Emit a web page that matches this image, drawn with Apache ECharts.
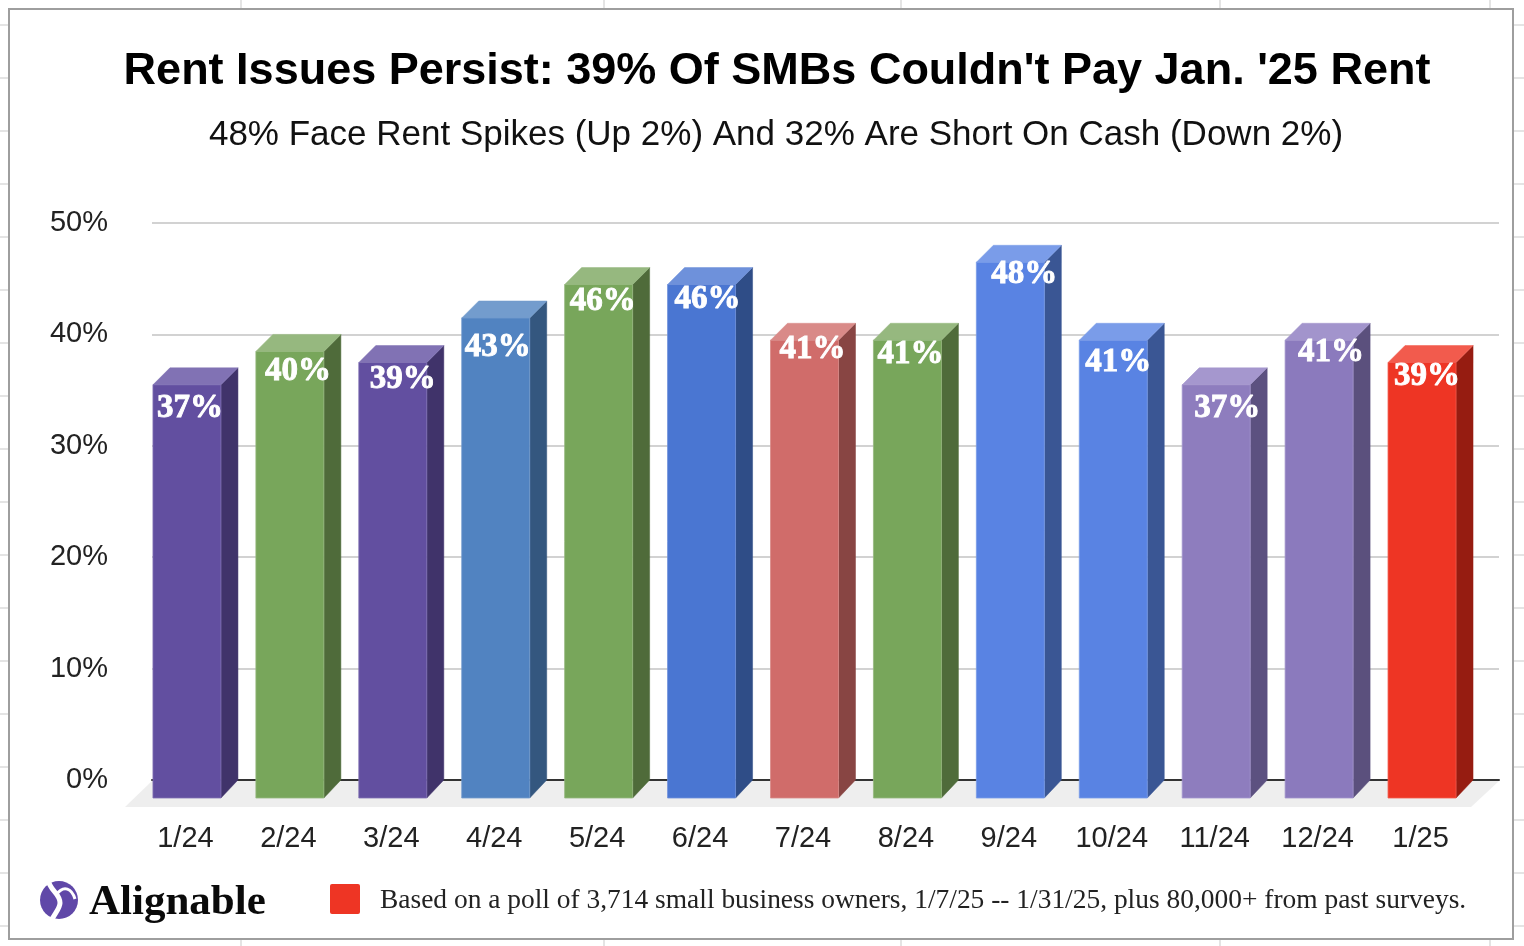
<!DOCTYPE html>
<html><head><meta charset="utf-8">
<style>html,body{margin:0;padding:0;background:#fff}#c{width:1524px;height:946px}</style>
<script src="https://cdn.jsdelivr.net/npm/echarts@6/dist/echarts.min.js"></script>
</head><body><div id="c"></div>
<script>
const categories = ['1/24','2/24','3/24','4/24','5/24','6/24','7/24','8/24','9/24','10/24','11/24','12/24','1/25'];
const rentValues = [37,40,39,43,46,46,41,41,48,41,37,41,39];
const yTicks = [0,10,20,30,40,50];
const titleText = "Rent Issues Persist: 39% Of SMBs Couldn't Pay Jan. '25 Rent";
const subtitleText = '48% Face Rent Spikes (Up 2%) And 32% Are Short On Cash (Down 2%)';
const noteText = 'Based on a poll of 3,714 small business owners, 1/7/25 -- 1/31/25, plus 80,000+ from past surveys.';
const logoText = 'Alignable';

// Styling, separate from the data
const frontColors = ['#624FA0','#78A65B','#624FA0','#5183C1','#78A65B','#4A76D2','#D06C6A','#78A65B','#5983E3','#5983E3','#8E7DBE','#8B7ABD','#EE3524'];
const sideColors  = ['#40336A','#4F6B3A','#40336A','#34577F','#4F6B3A','#2F4D87','#884543','#4F6B3A','#3A5694','#3A5694','#5C5180','#5B507D','#961C11'];
const topColors   = ['#8172B4','#96B87F','#8172B4','#739CCD','#96B87F','#6E91DB','#D98A88','#96B87F','#7A9CE9','#7A9CE9','#A597CE','#A294CC','#F25B4D'];
const labelNudge  = [[3,24],[8,20],[10,17],[2,29],[4,17],[6,15],[8,9],[3,14],[14,12],[5,22],[11,24],[12,12],[5,14]];
const sheetRows = Array.from({length:18},(_,i)=>25+53*i);
const sheetCols = [241,604,901,1220,1490];

const BAR_W = 68, DX = 17, DY = 17, DROP = 18;
const AXIS_TOP = 223, AXIS_H = 557;

function renderBar(params, api){
  const i = params.dataIndex, v = api.value(1);
  const p = api.coord([i, v]), b = api.coord([i, 0]);
  const l = p[0]-BAR_W/2, r = p[0]+BAR_W/2;
  const ft = p[1]+DY, fb = b[1]+DROP;
  const poly = (pts, fill)=>({type:'polygon', shape:{points:pts}, style:{fill, stroke:fill, lineWidth:0.5}});
  return {type:'group', children:[
    poly([[r,ft],[r+DX,ft-DY],[r+DX,fb-DROP],[r,fb]], sideColors[i]),
    poly([[l,ft],[l+DX,ft-DY],[r+DX,ft-DY],[r,ft]], topColors[i]),
    {type:'rect', shape:{x:l,y:ft,width:BAR_W,height:fb-ft}, style:{fill:frontColors[i], stroke:topColors[i], lineWidth:0.8}},
    {type:'text', z2:5, style:{text:v+'%', x:p[0]+labelNudge[i][0], y:ft+labelNudge[i][1],
      fill:'#fff', align:'center', verticalAlign:'middle', font:'bold 33px "Liberation Serif"', stroke:'#fff', lineWidth:0.9}}
  ]};
}

function renderLogo(){
  return {type:'group', children:[
    {type:'circle', shape:{cx:59,cy:900,r:19}, style:{fill:'#6048A8'}},
    {type:'path', shape:{pathData:'M47 877 C50 892 60 893 60 903 C60 909 54 914 50 923'}, style:{fill:'none', stroke:'#fff', lineWidth:5}},
    {type:'path', shape:{pathData:'M56 895 C64 884 72 889 75 899'}, style:{fill:'none', stroke:'#fff', lineWidth:3}},
    {type:'path', shape:{pathData:'M64 877 C74 880 78 888 79 893'}, style:{fill:'none', stroke:'#fff', lineWidth:1.5}}
  ]};
}

const sheetLines = [
  ...sheetRows.map(y=>({type:'line', z:-1, shape:{x1:0,y1:y,x2:1524,y2:y}, style:{stroke:'#E4E4E4',lineWidth:2}})),
  ...sheetCols.map(x=>({type:'line', z:-1, shape:{x1:x,y1:0,x2:x,y2:946}, style:{stroke:'#E4E4E4',lineWidth:2}}))
];

const chart = echarts.init(document.getElementById('c'), null, {renderer:'canvas'});
chart.setOption({
  animation:false,
  backgroundColor:'#fff',
  title:[
    {text:titleText, left:772, top:44, textAlign:'center', textStyle:{fontFamily:'Liberation Sans', fontWeight:'bold', fontSize:45, color:'#000'}},
    {text:subtitleText, left:771, top:113, textAlign:'center', textStyle:{fontFamily:'Liberation Sans', fontWeight:'normal', fontSize:35, color:'#111'}}
  ],
  grid:[
    {left:152, width:1347, top:AXIS_TOP, height:AXIS_H},
    {left:135.5, width:1338, top:AXIS_TOP, height:AXIS_H}
  ],
  xAxis:[
    {gridIndex:0, type:'category', data:categories, axisLine:{lineStyle:{color:'#333',width:2}}, axisTick:{show:false}, axisLabel:{show:false}},
    {gridIndex:1, type:'category', data:categories, axisLine:{show:false}, axisTick:{show:false},
      axisLabel:{interval:0, margin:44, padding:[0,3,0,0], fontFamily:'Liberation Sans', fontSize:29, color:'#222'}}
  ],
  yAxis:[
    {gridIndex:0, type:'value', min:yTicks[0], max:yTicks[yTicks.length-1], interval:yTicks[1]-yTicks[0],
      axisLine:{show:false}, axisTick:{show:false}, splitLine:{lineStyle:{color:'#D2D2D2',width:2}},
      axisLabel:{margin:44, padding:[2,0,0,0], fontFamily:'Liberation Sans', fontSize:29, color:'#222', formatter:'{value}%'}},
    {gridIndex:1, type:'value', min:yTicks[0], max:yTicks[yTicks.length-1], show:false, splitLine:{show:false}}
  ],
  series:[
    {type:'custom', xAxisIndex:1, yAxisIndex:1, z:5, clip:false, renderItem:renderBar,
      encode:{x:0,y:1}, data:rentValues.map((v,i)=>[i,v])},
    {type:'custom', coordinateSystem:'none', z:5, silent:true, renderItem:renderLogo, data:[0]}
  ],
  graphic:{elements:[
    ...sheetLines,
    {type:'rect', z:0, shape:{x:9,y:9,width:1504,height:930}, style:{fill:'#fff', stroke:'#9E9E9E', lineWidth:2}},
    {type:'polygon', z:1, shape:{points:[[152,781],[1499,781],[1471,807],[125,807]]}, style:{fill:'#EEEEEE'}},
    {type:'text', z:3, style:{text:logoText, x:89, y:903, fill:'#0A0A0A', verticalAlign:'middle', font:'bold 43px "Liberation Serif"'}},
    {type:'rect', z:3, shape:{x:330,y:884,width:30,height:30,r:2}, style:{fill:'#EE3524'}},
    {type:'text', z:3, style:{text:noteText, x:380, y:901, fill:'#222', verticalAlign:'middle', font:'27.45px "Liberation Serif"'}}
  ]}
});
</script></body></html>
